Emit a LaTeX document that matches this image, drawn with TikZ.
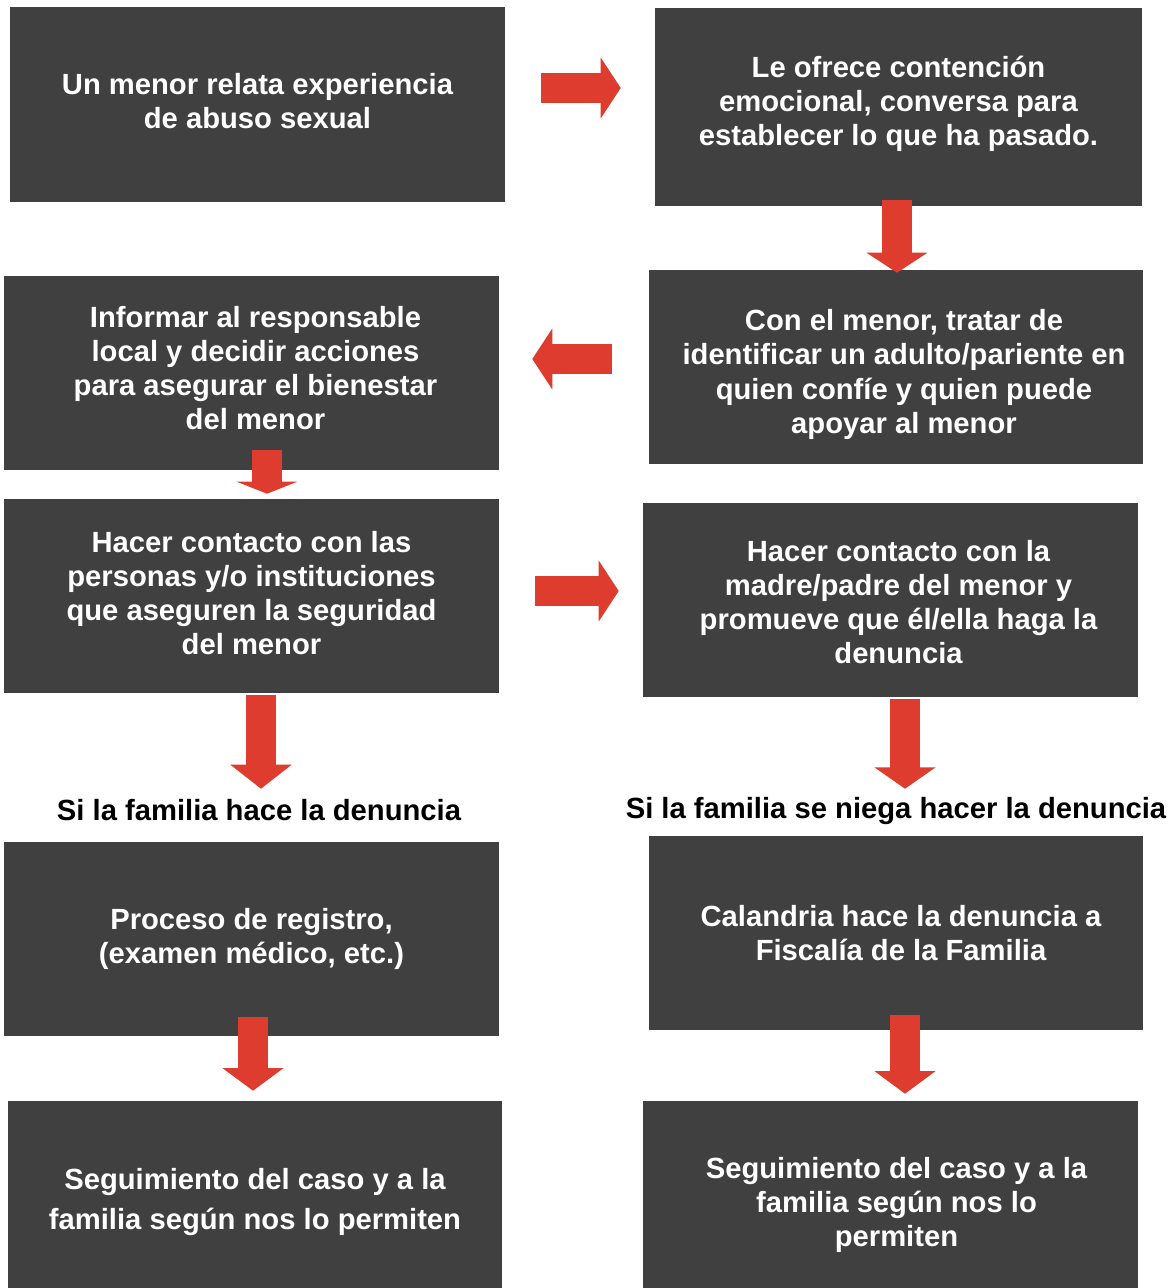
\documentclass[tikz,border=0pt]{standalone}
\usepackage{fontspec}
\setmainfont{Liberation Sans}
\usetikzlibrary{arrows.meta}
\definecolor{cajagris}{RGB}{64,64,64}
\definecolor{rojoflecha}{RGB}{222,60,46}

\begin{document}
\begin{tikzpicture}[x=0.75pt,y=0.75pt,yscale=-1,xscale=1,
  caja/.style={fill=cajagris, inner sep=0pt,
    minimum width=495*0.75pt, minimum height=194*0.75pt},
  texto/.style={text=white, align=center, inner sep=0pt,
    font=\fontsize{21.9}{25.5}\selectfont\bfseries},
  rotulo/.style={font=\fontsize{21.9}{25.5}\selectfont\bfseries, inner sep=0pt},
  flecha/.style={draw=rojoflecha, line width=22.5pt,
    -{Triangle[width=45pt,length=15pt]}}]
\useasboundingbox (0,0) rectangle (1176,1288);

%Shape: Rectangle
\node[caja, label={[texto, yshift=2.25pt]center:{Un menor relata experiencia\\de abuso sexual}}] (b1) at (257.5,104.5) {};
\node[caja, minimum width=487*0.75pt, minimum height=198*0.75pt,
  label={[texto, yshift=2.25pt]center:{Le ofrece contención\\emocional, conversa para\\establecer lo que ha pasado.}}] (b2) at (898.5,107) {};
\node[caja, minimum width=494*0.75pt,
  label={[texto, yshift=-5.6pt, xshift=6pt, font=\fontsize{21.9}{25.8}\selectfont\bfseries]center:{Con el menor, tratar de\\identificar un adulto/pariente en\\quien confíe y quien puede\\apoyar al menor}}] (b3) at (896,367) {};
\node[caja, label={[texto, yshift=3.75pt, xshift=3pt]center:{Informar al responsable\\local y decidir acciones\\para asegurar el bienestar\\del menor}}] (b4) at (251.5,373) {};
\node[caja, label={[texto, yshift=2.25pt]center:{Hacer contacto con las\\personas y/o instituciones\\que aseguren la seguridad\\del menor}}] (b5) at (251.5,596) {};
\node[caja, label={[texto, yshift=-1.5pt, xshift=6pt]center:{Hacer contacto con la\\madre/padre del menor y\\promueve que él/ella haga la\\denuncia}}] (b6) at (890.5,600) {};
\node[caja, label={[texto]center:{Proceso de registro,\\(examen médico, etc.)}}] (b7) at (251.5,939) {};
\node[caja, minimum width=494*0.75pt,
  label={[texto, xshift=3.75pt]center:{Calandria hace la denuncia a\\Fiscalía de la Familia}}] (b8) at (896,933) {};
\node[caja, minimum width=494*0.75pt, minimum height=187*0.75pt,
  label={[texto, yshift=-5.25pt]center:{Seguimiento del caso y a la\\[4.5pt]familia según nos lo permiten}}] (b9) at (255,1194.5) {};
\node[caja, minimum height=187*0.75pt,
  label={[texto, yshift=-7.5pt, xshift=4.5pt]center:{Seguimiento del caso y a la\\familia según nos lo\\permiten}}] (b10) at (890.5,1194.5) {};

% Text Node
\node[rotulo] (l1) at (259,810) {Si la familia hace la denuncia};
\node[rotulo] (l2) at (896,811) {Si la familia se niega hacer la denuncia};

%Block Arrows
\draw[flecha] ([shift={(36,-16.5)}]b1.east) -- ([shift={(-34,-19)}]b2.west);
\draw[flecha] ([shift={(-1.5,-6)}]b2.south) -- ([shift={(1,3)}]b3.north);
\draw[flecha] ([shift={(-37,-8)}]b3.west) -- ([shift={(33,-14)}]b4.east);
\draw[flecha, -{Triangle[width=45pt,length=9pt]}] ([shift={(15.5,-20)}]b4.south) -- ([shift={(15.5,-5)}]b5.north);
\draw[flecha] ([shift={(36,-5)}]b5.east) -- ([shift={(-24,-9)}]b6.west);
\draw[flecha, -{Triangle[width=45pt,length=18pt]}] ([shift={(9.5,2)}]b5.south) -- ([shift={(9.5,-53)}]b7.north);
\draw[flecha, -{Triangle[width=45pt,length=16pt]}] ([shift={(14.5,2)}]b6.south) -- ([shift={(9,-47)}]b8.north);
\draw[flecha, -{Triangle[width=45pt,length=17pt]}] ([shift={(1.5,-19)}]b7.south) -- ([shift={(-2,-10)}]b9.north);
\draw[flecha, -{Triangle[width=45pt,length=17pt]}] ([shift={(9,-15)}]b8.south) -- ([shift={(14.5,-7)}]b10.north);

\end{tikzpicture}
\end{document}
